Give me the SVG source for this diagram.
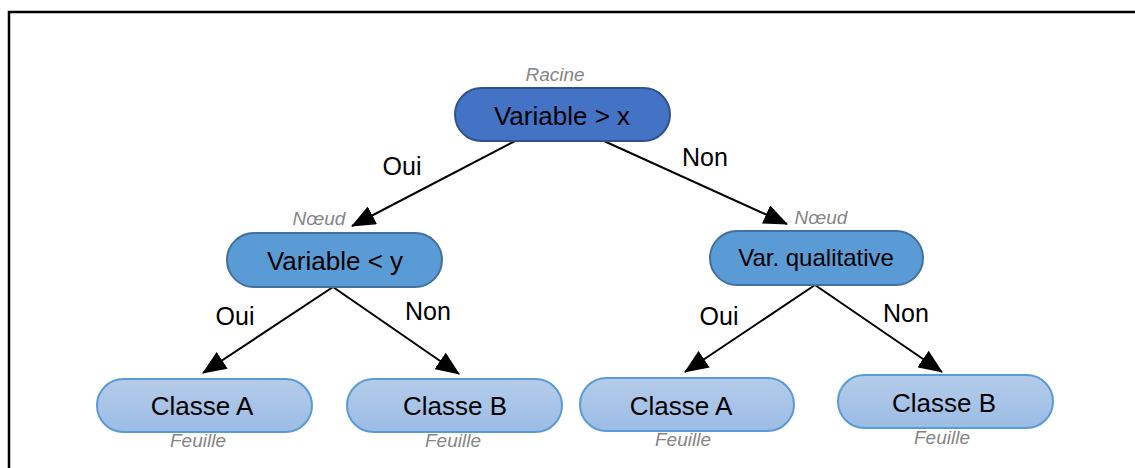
<svg xmlns="http://www.w3.org/2000/svg" width="1135" height="468" viewBox="0 0 1135 468">
<style>
.lbl{font-family:"Liberation Sans",Arial,sans-serif;fill:#000;text-anchor:middle}
.main{font-size:26px}
.edge{font-size:25px}
.tag{font-family:"Liberation Sans",Arial,sans-serif;font-style:italic;font-size:19px;fill:#858585;text-anchor:middle}
.root{fill:#4472C4;stroke:#2F528F;stroke-width:2}
.mid{fill:#5B9BD5;stroke:#41719C;stroke-width:2}
.leaf{fill:url(#leafGrad);stroke:#5B9BD5;stroke-width:2}
.conn{stroke:#000;stroke-width:2;fill:none;marker-end:url(#arr)}
</style>
<defs>
<linearGradient id="leafGrad" x1="0" y1="0" x2="0" y2="1">
<stop offset="0" stop-color="#B5CCEA"/>
<stop offset="1" stop-color="#9BBCE5"/>
</linearGradient>
<marker id="arr" markerUnits="userSpaceOnUse" markerWidth="24" markerHeight="20" refX="23" refY="10" orient="auto">
<path d="M0,0 L24,10 L0,20 z" fill="#000"/>
</marker>
</defs>
<rect x="9" y="12" width="1140" height="470" fill="none" stroke="#000" stroke-width="2.5"/>
<g id="connectors">
<line class="conn" x1="515" y1="141" x2="352" y2="226"/>
<line class="conn" x1="604" y1="141" x2="787" y2="224"/>
<line class="conn" x1="333" y1="287" x2="203" y2="373"/>
<line class="conn" x1="333" y1="287" x2="459" y2="374"/>
<line class="conn" x1="815" y1="285" x2="685" y2="372"/>
<line class="conn" x1="815" y1="285" x2="942" y2="372"/>
<text class="lbl edge" x="402" y="175">Oui</text>
<text class="lbl edge" x="705" y="166">Non</text>
<text class="lbl edge" x="235" y="325">Oui</text>
<text class="lbl edge" x="428" y="320">Non</text>
<text class="lbl edge" x="719" y="325">Oui</text>
<text class="lbl edge" x="906" y="322">Non</text>
</g>
<g id="root">
<text class="tag" x="555" y="81">Racine</text>
<rect class="root" x="455" y="88" width="215" height="53" rx="26.5"/>
<text class="lbl main" x="562" y="125">Variable &gt; x</text>
</g>
<g id="node-left">
<text class="tag" x="319" y="225">Nœud</text>
<rect class="mid" x="227" y="233" width="215" height="54" rx="27"/>
<text class="lbl main" x="335" y="270">Variable &lt; y</text>
</g>
<g id="node-right">
<text class="tag" x="821" y="224">Nœud</text>
<rect class="mid" x="710" y="231" width="213" height="54" rx="27"/>
<text class="lbl" style="font-size:24px" x="816" y="266">Var. qualitative</text>
</g>
<g id="leaf-1">
<rect class="leaf" x="97" y="379" width="215" height="53" rx="26.5"/>
<text class="lbl main" x="202" y="415">Classe A</text>
<text class="tag" x="198" y="447">Feuille</text>
</g>
<g id="leaf-2">
<rect class="leaf" x="347" y="379" width="215" height="53" rx="26.5"/>
<text class="lbl main" x="455" y="415">Classe B</text>
<text class="tag" x="453" y="447">Feuille</text>
</g>
<g id="leaf-3">
<rect class="leaf" x="580" y="378" width="214" height="53" rx="26.5"/>
<text class="lbl main" x="681" y="415">Classe A</text>
<text class="tag" x="683" y="446">Feuille</text>
</g>
<g id="leaf-4">
<rect class="leaf" x="838" y="375" width="215" height="53" rx="26.5"/>
<text class="lbl main" x="944" y="412">Classe B</text>
<text class="tag" x="942" y="444">Feuille</text>
</g>
</svg>
